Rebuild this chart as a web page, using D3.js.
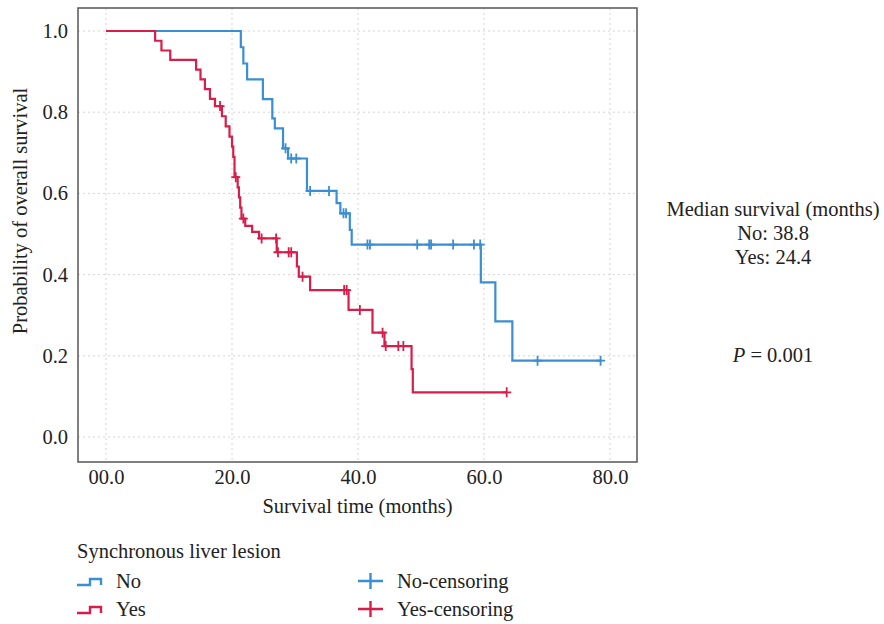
<!DOCTYPE html>
<html>
  <head>
    <meta charset="utf-8">
    <title>Kaplan-Meier: synchronous liver lesion</title>
    <style>
      body { margin: 0; background: #fff; }
      svg, svg text { font-family: "Liberation Serif", "DejaVu Serif", serif; }
      .grid line { stroke: #d4d4d4; stroke-width: 1; stroke-dasharray: 2,3; }
      .axis text { font-size: 20.5px; fill: #222; }
      .axis path, .axis line { display: none; }
    </style>
  </head>
  <body>
    <div id="chart"></div>
    <script src="https://d3js.org/d3.v7.min.js"></script>
    <script>
      // Group "No" (no synchronous liver lesion): step times and survival after each step
      var noTimes = [0, 21.4, 21.8, 22.4, 24.9, 26.4, 26.8, 28.1, 28.9, 31.9, 36.6, 37.2, 38.7, 39.0, 59.5, 61.8, 64.5];
      var noSurv  = [1.0, 0.96, 0.92, 0.881, 0.832, 0.785, 0.76, 0.711, 0.686, 0.606, 0.576, 0.551, 0.51, 0.474, 0.381, 0.285, 0.188];
      var noEnd = 78.7;
      var noCensor = [28.5, 29.4, 30.2, 32.4, 35.4, 37.7, 38.1, 41.5, 41.9, 49.4, 51.3, 51.6, 55.1, 58.4, 59.4, 68.5, 78.5];

      // Group "Yes"
      var yesTimes = [0, 7.8, 8.8, 10.2, 14.3, 15.0, 15.7, 16.5, 17.3, 18.4, 19.0, 19.6, 20.0, 20.2, 20.4,
                      20.9, 21.1, 21.3, 21.5, 22.1, 23.2, 24.3, 27.1, 30.3, 30.6, 32.4, 38.5, 42.3, 44.2, 48.5, 48.7];
      var yesSurv  = [1.0, 0.976, 0.952, 0.929, 0.905, 0.881, 0.857, 0.833, 0.815, 0.79, 0.765, 0.74, 0.715, 0.69, 0.64,
                      0.615, 0.59, 0.565, 0.538, 0.52, 0.505, 0.489, 0.455, 0.42, 0.395, 0.362, 0.313, 0.257, 0.224, 0.167, 0.11];
      var yesEnd = 63.6;
      var yesCensor = [18.1, 20.6, 21.8, 24.7, 27.0, 27.3, 29.0, 29.4, 31.2, 37.8, 38.2, 40.3, 43.9, 44.4, 46.4, 47.2, 63.6];

      var xTicks = [0, 20, 40, 60, 80];
      var xTickLabels = ["00.0", "20.0", "40.0", "60.0", "80.0"];
      var yTicks = [0, 0.2, 0.4, 0.6, 0.8, 1.0];
      var yTickLabels = ["0.0", "0.2", "0.4", "0.6", "0.8", "1.0"];

      var blue = "#3a8ed2";
      var red = "#d81d4b";
      var fontSize = "20.5px";

      var W = 884, H = 624;
      var plot = {left: 78, top: 8, right: 637, bottom: 462};

      var svg = d3.select("#chart").append("svg")
        .attr("width", W)
        .attr("height", H);

      var x = d3.scaleLinear().domain([0, 80]).range([106, 610]);
      var y = d3.scaleLinear().domain([0, 1]).range([437, 31]);

      // grid
      var grid = svg.append("g").attr("class", "grid");
      grid.selectAll(".gx").data(xTicks).enter().append("line")
        .attr("x1", function(d) { return x(d); })
        .attr("x2", function(d) { return x(d); })
        .attr("y1", plot.top).attr("y2", plot.bottom);
      grid.selectAll(".gy").data(yTicks).enter().append("line")
        .attr("y1", function(d) { return y(d); })
        .attr("y2", function(d) { return y(d); })
        .attr("x1", plot.left).attr("x2", plot.right);

      // axes
      svg.append("g")
        .attr("class", "axis")
        .attr("transform", "translate(0," + plot.bottom + ")")
        .call(d3.axisBottom(x).tickValues(xTicks).tickSize(0).tickPadding(7)
          .tickFormat(function(d, i) { return xTickLabels[i]; }))
        .attr("font-family", null);

      svg.append("g")
        .attr("class", "axis")
        .attr("transform", "translate(" + plot.left + ",0)")
        .call(d3.axisLeft(y).tickValues(yTicks).tickSize(0).tickPadding(10)
          .tickFormat(function(d, i) { return yTickLabels[i]; }))
        .attr("font-family", null);

      // curves
      function stepData(times, surv, end) {
        var pts = times.map(function(t, i) { return [t, surv[i]]; });
        pts.push([end, surv[surv.length - 1]]);
        return pts;
      }
      function survAt(times, surv, t) {
        var i = d3.bisectRight(times, t) - 1;
        return surv[Math.max(0, i)];
      }

      var line = d3.line()
        .x(function(d) { return x(d[0]); })
        .y(function(d) { return y(d[1]); })
        .curve(d3.curveStepAfter);

      var groups = [
        {times: noTimes, surv: noSurv, end: noEnd, censor: noCensor, color: blue},
        {times: yesTimes, surv: yesSurv, end: yesEnd, censor: yesCensor, color: red}
      ];

      groups.forEach(function(g) {
        svg.append("path")
          .datum(stepData(g.times, g.surv, g.end))
          .attr("fill", "none")
          .attr("stroke", g.color)
          .attr("stroke-width", 2.2)
          .attr("d", line);

        svg.selectAll(null)
          .data(g.censor)
          .enter().append("path")
          .attr("stroke", g.color)
          .attr("stroke-width", 1.8)
          .attr("fill", "none")
          .attr("d", function(t) {
            var cx = x(t), cy = y(survAt(g.times, g.surv, t));
            return "M" + (cx - 4.5) + "," + cy + "H" + (cx + 4.5) +
                   "M" + cx + "," + (cy - 5) + "V" + (cy + 5);
          });
      });

      // frame
      svg.append("rect")
        .attr("x", plot.left).attr("y", plot.top)
        .attr("width", plot.right - plot.left)
        .attr("height", plot.bottom - plot.top)
        .attr("fill", "none")
        .attr("stroke", "#555")
        .attr("stroke-width", 1.5);

      // axis titles
      svg.append("text")
        .attr("x", (plot.left + plot.right) / 2)
        .attr("y", 513)
        .attr("text-anchor", "middle")
        .style("font-size", fontSize)
        .attr("fill", "#222")
        .text("Survival time (months)");

      svg.append("text")
        .attr("transform", "translate(27,211) rotate(-90)")
        .attr("text-anchor", "middle")
        .style("font-size", fontSize)
        .attr("fill", "#222")
        .text("Probability of overall survival");

      // annotations
      var notes = ["Median survival (months)", "No: 38.8", "Yes: 24.4"];
      svg.selectAll(".note").data(notes).enter().append("text")
        .attr("x", 773)
        .attr("y", function(d, i) { return 216 + i * 24; })
        .attr("text-anchor", "middle")
        .style("font-size", fontSize)
        .attr("fill", "#222")
        .text(function(d) { return d; });

      var pText = svg.append("text")
        .attr("x", 773).attr("y", 362)
        .attr("text-anchor", "middle")
        .style("font-size", fontSize)
        .attr("fill", "#222");
      pText.append("tspan").style("font-style", "italic").text("P");
      pText.append("tspan").text(" = 0.001");

      // legend
      svg.append("text")
        .attr("x", 77).attr("y", 558)
        .style("font-size", fontSize)
        .attr("fill", "#222")
        .text("Synchronous liver lesion");

      var legendRows = [
        {label: "No", cens: "No-censoring", color: blue, y: 581},
        {label: "Yes", cens: "Yes-censoring", color: red, y: 609}
      ];
      legendRows.forEach(function(r) {
        svg.append("path")
          .attr("d", "M77," + (r.y + 4) + "H90V" + (r.y - 2) + "H101V" + (r.y + 4))
          .attr("fill", "none")
          .attr("stroke", r.color)
          .attr("stroke-width", 2.4);
        svg.append("text")
          .attr("x", 116).attr("y", r.y + 7)
          .style("font-size", fontSize)
          .attr("fill", "#222")
          .text(r.label);
        svg.append("path")
          .attr("d", "M358," + r.y + "H383M370.5," + (r.y - 8) + "V" + (r.y + 8))
          .attr("fill", "none")
          .attr("stroke", r.color)
          .attr("stroke-width", 2.4);
        svg.append("text")
          .attr("x", 397).attr("y", r.y + 7)
          .style("font-size", fontSize)
          .attr("fill", "#222")
          .text(r.cens);
      });
    </script>
  </body>
</html>
